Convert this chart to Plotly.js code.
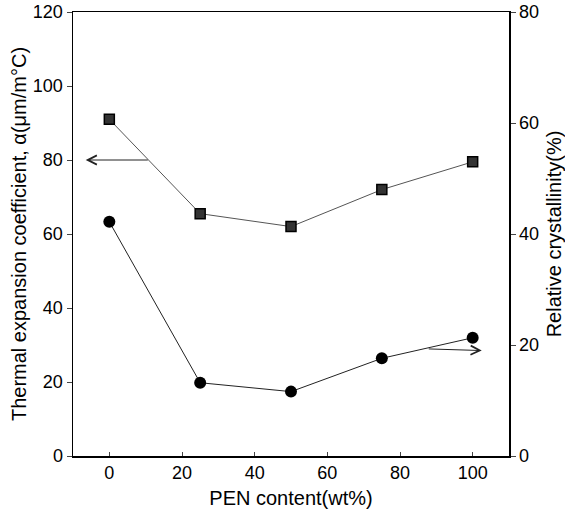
<!DOCTYPE html>
<html><head><meta charset="utf-8">
<script src="https://cdn.plot.ly/plotly-3.0.1.min.js"></script>
<style>body{margin:0;padding:0;background:#fff}#chart{width:565px;height:515px}</style>
</head><body><div id="chart"></div>
<script>
const penContent = [0, 25, 50, 75, 100];
const thermalExpansion = [91, 65.5, 62, 72, 79.5];
const relativeCrystallinity = [42.2, 13.2, 11.6, 17.6, 21.3];
const xTickVals = [0, 20, 40, 60, 80, 100];
const yLeftTickVals = [0, 20, 40, 60, 80, 100, 120];
const yRightTickVals = [0, 20, 40, 60, 80];

const font = {family: 'Liberation Sans, Arial, sans-serif', color: '#000', size: 18};

const traces = [
  {x: penContent, y: thermalExpansion, type: 'scatter', mode: 'lines+markers',
   line: {color: '#555', width: 1},
   marker: {symbol: 'square', size: 10, color: '#333', line: {color: '#000', width: 1.5}},
   yaxis: 'y', showlegend: false},
  {x: penContent, y: relativeCrystallinity, type: 'scatter', mode: 'lines+markers',
   line: {color: '#222', width: 1},
   marker: {symbol: 'circle', size: 12, color: '#000'},
   yaxis: 'y2', showlegend: false}
];

const layout = {
  width: 565, height: 515,
  margin: {l: 73, r: 56, t: 12, b: 59},
  paper_bgcolor: '#fff', plot_bgcolor: '#fff',
  font: font,
  xaxis: {range: [-10, 110], tickvals: xTickVals, ticks: 'inside', ticklen: 4,
    showline: true, linecolor: '#000', linewidth: 1.5, mirror: true, showgrid: false, zeroline: false,
    tickfont: {size: 18}, title: {text: 'PEN content(wt%)', font: {size: 20}, standoff: 9}},
  yaxis: {range: [0, 120], tickvals: yLeftTickVals, ticks: 'outside', ticklen: 5,
    showline: true, linecolor: '#000', linewidth: 1.5, showgrid: false, zeroline: false,
    tickfont: {size: 18}, title: {text: 'Thermal expansion coefficient, α(μm/m°C)', font: {size: 20}, standoff: 1}},
  yaxis2: {range: [0, 80], tickvals: yRightTickVals, ticks: 'outside', ticklen: 5,
    overlaying: 'y', side: 'right', showline: true, linecolor: '#000', linewidth: 1.5,
    showgrid: false, zeroline: false,
    tickfont: {size: 18}, title: {text: 'Relative crystallinity(%)', font: {size: 20}, standoff: 10}},
  annotations: [
    {x: -6.5, y: 80, xref: 'x', yref: 'y', ax: 11, ay: 80, axref: 'x', ayref: 'y',
     showarrow: true, arrowhead: 5, arrowsize: 1.8, arrowwidth: 1, arrowcolor: '#222', text: ''},
    {x: 102.5, y: 19, xref: 'x', yref: 'y2', ax: 87.5, ay: 19.3, axref: 'x', ayref: 'y2',
     showarrow: true, arrowhead: 5, arrowsize: 1.8, arrowwidth: 1, arrowcolor: '#222', text: ''}
  ]
};

Plotly.newPlot('chart', traces, layout, {displayModeBar: false, staticPlot: true});
</script></body></html>
